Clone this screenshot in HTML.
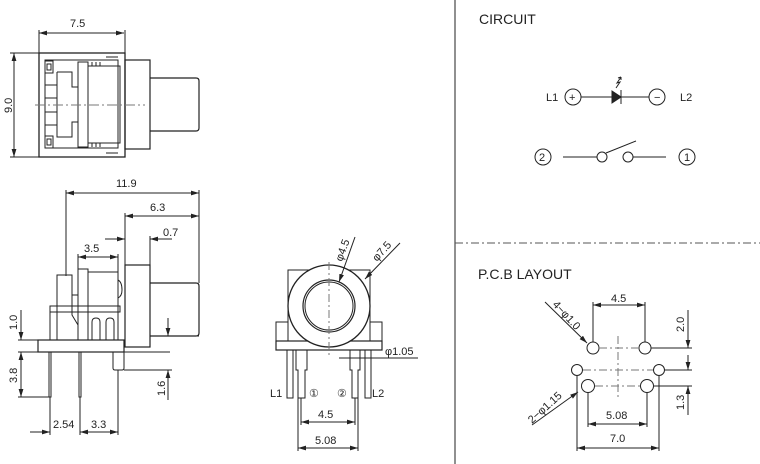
<!DOCTYPE html>
<html><head><meta charset="utf-8"><style>
html,body{margin:0;padding:0;background:#fff;width:760px;height:464px;overflow:hidden}
text{font-family:"Liberation Sans",sans-serif;fill:#222}
</style></head><body>
<svg width="760" height="464" viewBox="0 0 760 464" xmlns="http://www.w3.org/2000/svg">
<defs>
<marker id="a" viewBox="0 0 10 6" refX="10" refY="3" markerWidth="8" markerHeight="5" orient="auto-start-reverse"><path d="M0,0L10,3L0,6z" fill="#222"/></marker>
</defs>
<g stroke="#222" fill="none" stroke-width="1">
<!-- TOP VIEW -->
<rect x="39" y="53" width="86" height="104" stroke-width="1.3"/>
<rect x="45" y="60" width="73" height="88"/>
<rect x="45" y="61" width="8" height="12"/><rect x="47" y="64" width="4" height="6"/>
<rect x="45" y="136" width="8" height="12"/><rect x="47" y="139" width="4" height="6"/>
<path d="M57,72H72V87H78M57,72V137H72V122H78"/>
<path d="M45,85H57M45,125H57M45,98H57M45,112H57"/>
<rect x="78" y="62" width="10" height="85"/>
<rect x="88" y="66" width="32" height="77"/>
<path d="M92,62V66M96,62V66M100,62V66M92,143V147M96,143V147M100,143V147M106,57H118M106,153H118"/>
<rect x="125" y="60" width="25" height="89" stroke-width="1.2"/>
<path d="M150,78H196Q199,78 199,81V128Q199,131 196,131H150" stroke-width="1.2"/>
<path d="M35,105H145" stroke="#777" stroke-dasharray="10,3,2,3"/>
<path d="M39,53V30M125,53V30M39,157H10M39,53H10"/>
<path d="M39,33H124" marker-start="url(#a)" marker-end="url(#a)"/>
<path d="M14,53V157" marker-start="url(#a)" marker-end="url(#a)"/>

<!-- SIDE VIEW -->
<rect x="38" y="340" width="86" height="12" stroke-width="1.2"/>
<rect x="125" y="265" width="25" height="82" stroke-width="1.2"/>
<path d="M150,283H196Q199,283 199,286V333Q199,336 196,336H150" stroke-width="1.2"/>
<rect x="78" y="269" width="10" height="71"/>
<rect x="88" y="272" width="30" height="68"/>
<path d="M57,340V275H72V295H78M50,340V306H120V312H50M72,295V315L78,325V340M92,340V322Q92,318 96,318Q100,318 100,322V340M106,340V322Q106,318 110,318Q114,318 114,322V340M118,280Q122,282 122,290Q122,296 118,298"/>
<path d="M49,352V397H51V352M79,352V397H81V352M113,352V368Q113,370 115,370H122Q124,370 124,368V352"/>
<path d="M66,276V190M125,265V213M199,283V190M150,265V236M78,269V254M118,272V254"/>
<path d="M66,193H199" marker-start="url(#a)" marker-end="url(#a)"/>
<path d="M125,216H199" marker-start="url(#a)" marker-end="url(#a)"/>
<path d="M105,239H125" marker-end="url(#a)"/><path d="M172,239H150" marker-end="url(#a)"/>
<path d="M78,257H118" marker-start="url(#a)" marker-end="url(#a)"/>
<path d="M18,340H38M18,352H170M124,370H172M199,336H172"/>
<path d="M21,310V340" marker-end="url(#a)"/>
<path d="M21,352V397" marker-start="url(#a)" marker-end="url(#a)"/>
<path d="M18,397H49"/>
<path d="M168,318V336" marker-end="url(#a)"/><path d="M168,400V370" marker-end="url(#a)"/>
<path d="M50,397V435M80,397V435M118,370V435"/>
<path d="M30,432H50" marker-end="url(#a)"/>
<path d="M80,432H118" marker-start="url(#a)" marker-end="url(#a)"/>

<!-- FRONT VIEW -->
<rect x="276" y="341" width="106" height="9" stroke-width="1.2"/>
<path d="M288,341V270H370V341"/>
<path d="M276,341V322H288M382,341V322H370"/>
<circle cx="329" cy="306" r="41" fill="#fff" stroke-width="1.3"/>
<circle cx="329" cy="306" r="26" stroke-width="1.2"/>
<circle cx="329" cy="306" r="24"/>
<path d="M329,262V358" stroke="#777" stroke-dasharray="8,3,2,3"/>
<rect x="287" y="350" width="6" height="48"/>
<rect x="365" y="350" width="6" height="48"/>
<path d="M296,350V370H298V398H305V370H307V350M350,350V370H352V398H358V370H360V350"/>
<path d="M355,237L339,282" marker-end="url(#a)"/>
<path d="M400,243L365,279" marker-end="url(#a)"/>
<path d="M339,358H418"/>
<path d="M301,398V425M355,398V425M298,398V451M358,398V451"/>
<path d="M301,422H355" marker-start="url(#a)" marker-end="url(#a)"/>
<path d="M298,448H358" marker-start="url(#a)" marker-end="url(#a)"/>

<!-- divider -->
<path d="M455,0V464"/>
<path d="M455,243H760" stroke-dasharray="8,3,2,3" stroke="#555"/>

<!-- CIRCUIT -->
<circle cx="573" cy="97" r="8"/>
<path d="M581,97H612M621,97H649"/>
<path d="M612,91L621,97L612,103z" fill="#222"/>
<path d="M621,90V104"/>
<path d="M616,88L620,82L617,83L621,77" /><path d="M621,77l-3,1M621,77l0,3"/>
<circle cx="657" cy="97" r="8"/>
<circle cx="543" cy="157" r="8"/>
<path d="M563,157H597M633,157H666M606,153L636,141"/>
<circle cx="602" cy="157" r="5"/>
<circle cx="628" cy="157" r="5"/>
<circle cx="687" cy="157" r="8"/>

<!-- PCB -->
<circle cx="593" cy="348" r="6"/><circle cx="645" cy="348" r="6"/>
<circle cx="577" cy="370" r="5.5"/><circle cx="659" cy="370" r="5.5"/>
<circle cx="588" cy="386" r="6.5"/><circle cx="647" cy="386" r="6.5"/>
<path d="M618,336V398M599,348H639M583,370H653M595,386H640" stroke="#777" stroke-dasharray="8,3,2,3"/>
<path d="M651,348H692M665,370H692M654,386H692"/>
<path d="M593,342V302M645,342V302M588,393V427M647,393V427M577,376V451M659,376V451"/>
<path d="M593,305H645" marker-start="url(#a)" marker-end="url(#a)"/>
<path d="M688,310V348" marker-end="url(#a)"/>
<path d="M688,355V370" marker-end="url(#a)"/><path d="M688,415V386" marker-end="url(#a)"/>
<path d="M588,424H647" marker-start="url(#a)" marker-end="url(#a)"/>
<path d="M577,448H659" marker-start="url(#a)" marker-end="url(#a)"/>
<path d="M545,302L587,343" marker-end="url(#a)"/>
<path d="M532,425L578,392" marker-end="url(#a)"/>
</g>
<g font-size="11">
<text x="70" y="27">7.5</text>
<text x="0" y="0" transform="translate(12,113) rotate(-90)">9.0</text>
<text x="116" y="187">11.9</text>
<text x="150" y="211">6.3</text>
<text x="163" y="236">0.7</text>
<text x="84" y="252">3.5</text>
<text transform="translate(17,330) rotate(-90)">1.0</text>
<text transform="translate(17,383) rotate(-90)">3.8</text>
<text transform="translate(165,396) rotate(-90)">1.6</text>
<text x="53" y="428">2.54</text>
<text x="91" y="428">3.3</text>
<text transform="translate(342,262) rotate(-70)">φ4.5</text>
<text transform="translate(377,262) rotate(-48)">φ7.5</text>
<text x="385" y="355">φ1.05</text>
<text x="270" y="397">L1</text>
<text x="309" y="397">①</text>
<text x="337" y="397">②</text>
<text x="372" y="397">L2</text>
<text x="318" y="418">4.5</text>
<text x="315" y="444">5.08</text>
<text x="479" y="24" font-size="14">CIRCUIT</text>
<text x="546" y="101">L1</text>
<text x="569" y="101">+</text>
<text x="654" y="101">−</text>
<text x="680" y="101">L2</text>
<text x="539" y="161">2</text>
<text x="684" y="161">1</text>
<text x="478" y="279" font-size="14">P.C.B LAYOUT</text>
<text x="611" y="302">4.5</text>
<text transform="translate(552,305) rotate(47)">4−φ1.0</text>
<text transform="translate(684,332) rotate(-90)">2.0</text>
<text transform="translate(684,410) rotate(-90)">1.3</text>
<text transform="translate(532,424) rotate(-42)">2−φ1.15</text>
<text x="606" y="419">5.08</text>
<text x="610" y="442">7.0</text>
</g>
</svg>
</body></html>
